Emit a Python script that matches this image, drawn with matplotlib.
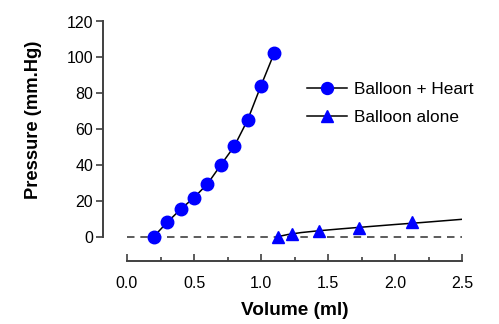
import matplotlib
matplotlib.use("Agg")
import matplotlib.pyplot as plt
from matplotlib.ticker import MultipleLocator

plt.rcParams['font.family'] = ['Liberation Sans', 'DejaVu Sans']

heart_x = [0.2, 0.3, 0.4, 0.5, 0.6, 0.7, 0.8, 0.9, 1.0, 1.1]
heart_y = [0.0, 7.9, 15.2, 21.7, 29.3, 39.9, 50.3, 65.0, 84.2, 102.6]

alone_x = [1.13, 1.23, 1.43, 1.73, 2.13]
alone_y = [-0.4, 1.6, 3.2, 4.9, 7.9]

fit_x = [1.13, 1.2, 1.3, 1.43, 1.6, 1.8, 2.0, 2.2, 2.5]
fit_y = [0.0, 1.1, 2.2, 3.2, 4.3, 5.5, 6.7, 7.8, 9.6]

baseline_x = [0.0, 2.5]
baseline_y = [0.0, 0.0]

xmin = -24/134
xmax = 2.5

fig = plt.figure(figsize=(4.99, 3.24), dpi=100)
ax = fig.add_axes([103/499, 1-261/324, (462-103)/499, (261-21.5)/324])

ax.plot(baseline_x, baseline_y, ls=(0, (4.5, 3.5)), color='#404040', lw=1.2, zorder=1)
ax.plot(heart_x, heart_y, color='black', lw=1.1, zorder=2)
ax.plot(heart_x, heart_y, ls='none', marker='o', ms=9, color='#0000ff',
        mec='#0000ff', zorder=3)
ax.plot(fit_x, fit_y, color='black', lw=1.1, zorder=2)
ax.plot(alone_x, alone_y, ls='none', marker='^', ms=8.8, color='#0000ff',
        mec='#0000ff', zorder=3)

h1, = ax.plot([], [], color='black', lw=1.1, marker='o', ms=8.6,
              mfc='#0000ff', mec='#0000ff')
h2, = ax.plot([], [], color='black', lw=1.1, marker='^', ms=8.5,
              mfc='#0000ff', mec='#0000ff')
ax.legend([h1, h2], ['Balloon + Heart', 'Balloon alone'], frameon=False,
          fontsize=12.4, loc='upper left', bbox_to_anchor=(0.55, 0.775),
          handlelength=2.3, handletextpad=0.4, labelspacing=0.75,
          borderaxespad=0)

ax.set_xlim(xmin, xmax)
ax.set_ylim((236.5-261)/1.792, 120)

for s in ['top', 'right']:
    ax.spines[s].set_visible(False)
ax.spines['left'].set_bounds(0, 120)
ax.spines['bottom'].set_bounds(0, 2.5)
for s in ['left', 'bottom']:
    ax.spines[s].set_color('#404040')
    ax.spines[s].set_linewidth(1.4)

ax.set_yticks([0, 20, 40, 60, 80, 100, 120])
ax.set_xticks([0.0, 0.5, 1.0, 1.5, 2.0, 2.5])
ax.set_xticklabels(['0.0', '0.5', '1.0', '1.5', '2.0', '2.5'])
ax.xaxis.set_minor_locator(MultipleLocator(0.25))

ax.tick_params(axis='y', direction='out', length=5, width=1.2, color='#404040',
               labelsize=11.5, pad=2)
ax.tick_params(axis='x', which='major', direction='in', length=5, width=1.2,
               color='#404040', labelsize=11.5, pad=11)
ax.tick_params(axis='x', which='minor', direction='in', length=3, width=1.2,
               color='#404040')

ax.set_xlabel('Volume (ml)', fontsize=13.7, fontweight='bold')
ax.xaxis.set_label_coords((1.25 - xmin) / (xmax - xmin), -41/239.5)
ax.set_ylabel('Pressure (mm.Hg)', fontsize=13.2, fontweight='bold')
ax.yaxis.set_label_coords(-61/359, (261-120)/239.5)

fig.savefig('out.png', dpi=100)
